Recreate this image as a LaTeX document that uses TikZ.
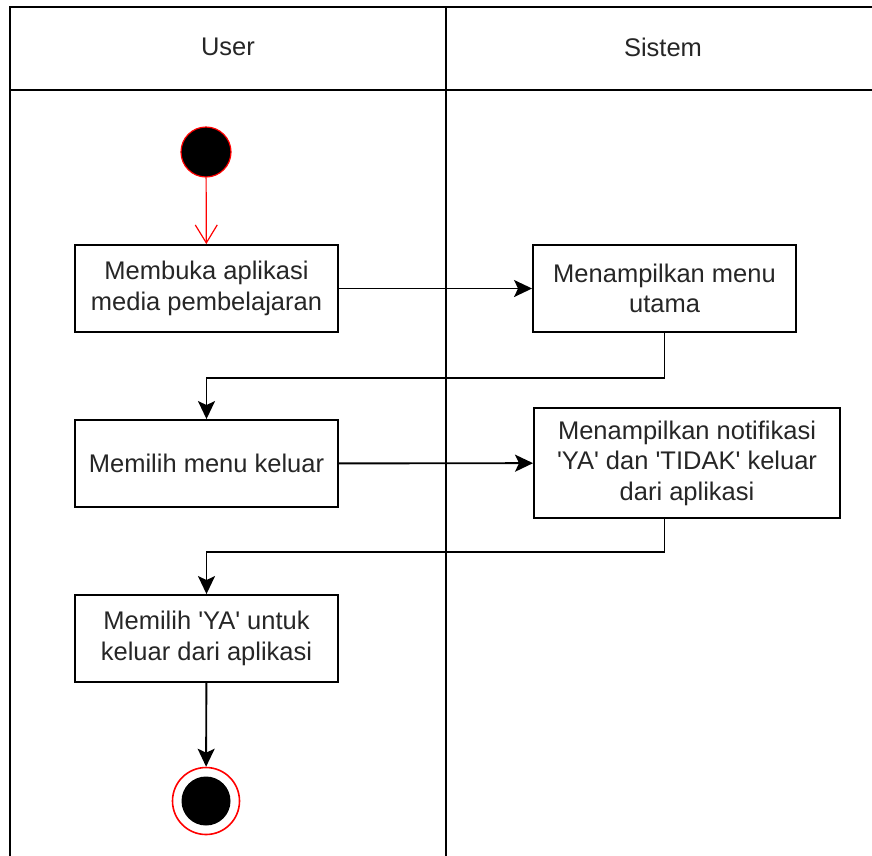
\documentclass[tikz,border=0pt]{standalone}
\usepackage{fontspec}
\setmainfont{Liberation Sans}
\usetikzlibrary{arrows.meta}

\newcommand{\sq}{\textquotesingle}

\begin{document}
\begin{tikzpicture}[x=1pt,y=-1pt,
    every node/.style={font=\fontsize{25.5}{30.5}\selectfont, text=black!85},
    lane/.style={line width=1.9pt},
    action/.style={draw, line width=1.9pt, fill=white, align=center, inner sep=0pt,
      minimum width=263pt, minimum height=87pt},
    initial/.style={circle, fill=black, draw=red, line width=1.2pt, minimum size=50pt, inner sep=0pt},
    final/.style={circle, draw=red, line width=1.6pt, minimum size=67pt, inner sep=0pt,
      path picture={\fill[black] (path picture bounding box.center) circle (24.5pt);}},
    flow/.style={line width=1.9pt, -{Stealth[length=18pt,width=17pt,inset=4pt]}},
    startflow/.style={red, line width=1.2pt, -{Straight Barb[length=18pt,width=22pt]}}]
    \useasboundingbox (0,0) rectangle (872,855) ;
    \clip (0,0) rectangle (872,855) ;

    % swimlanes
    \draw[lane] (10,7) rectangle (880,900) ;
    \draw[lane] (10,90) -- (880,90) ;
    \draw[lane] (446,7) -- (446,900) ;
    \node (user) at (228,47) {User} ;
    \node (sistem) at (663,47) {Sistem} ;

    % activities
    \node[initial] (start) at (206,152) {} ;
    \node[action] (buka) at (206.5,288.5) {Membuka aplikasi\\media pembelajaran} ;
    \node[action] (menu) at (664.5,288.5) {Menampilkan menu\\utama} ;
    \node[action] (keluar) at (206.5,463.5) {Memilih menu keluar} ;
    \node[action, minimum width=306pt, minimum height=110pt] (notif) at (687,463)
      {Menampilkan notifikasi\\\sq YA\sq{} dan \sq TIDAK\sq{} keluar\\dari aplikasi} ;
    \node[action] (ya) at (206.5,638.5) {Memilih \sq YA\sq{} untuk\\keluar dari aplikasi} ;
    \node[final] (end) at (206,801) {} ;

    % flows
    \draw[startflow] (start) -- (buka) ;
    \draw[flow] (buka) -- (menu) ;
    \draw[flow] (menu.south) -- ++(0,45) -| (keluar.north) ;
    \draw[flow] (keluar) -- (notif) ;
    \draw[flow] (menu.south |- notif.south) -- ++(0,33) -| (ya.north) ;
    \draw[flow] (ya) -- (end) ;
  \end{tikzpicture}
\end{document}
